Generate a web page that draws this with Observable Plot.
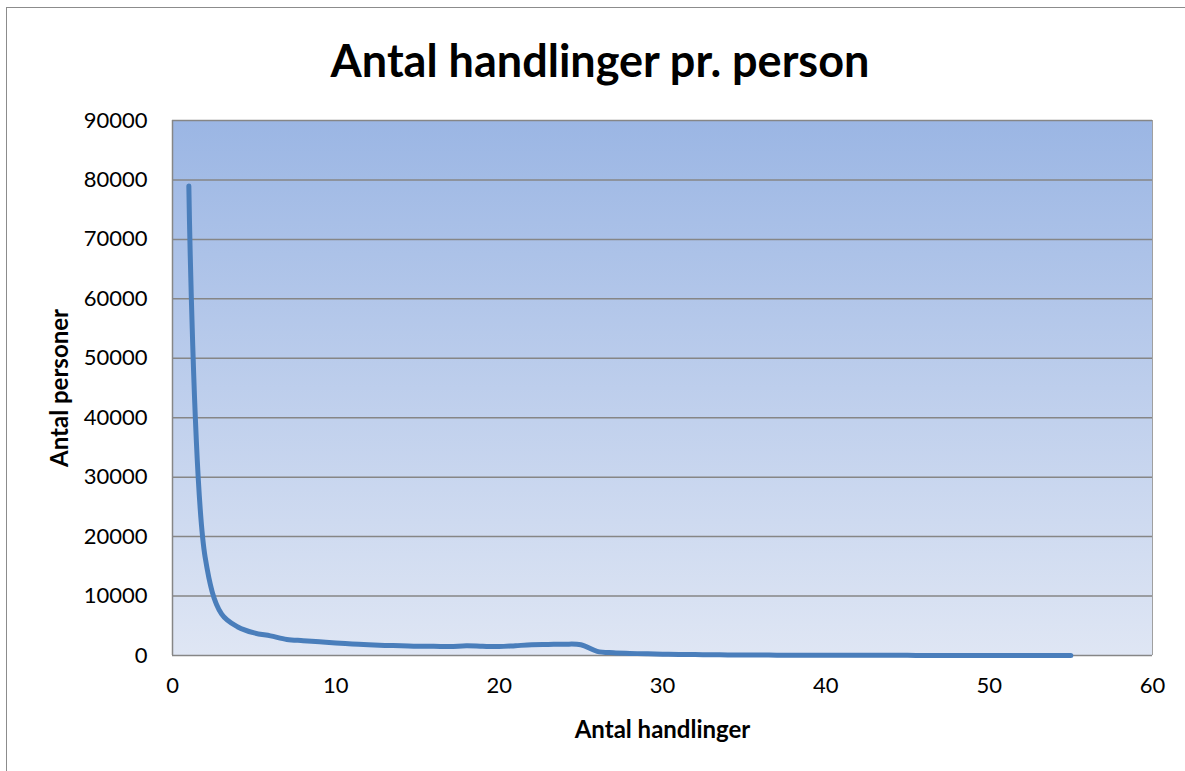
<!DOCTYPE html>
<html>
<head>
<meta charset="utf-8">
<script src="https://cdn.jsdelivr.net/npm/d3@7"></script>
<script src="https://cdn.jsdelivr.net/npm/@observablehq/plot@0.6"></script>
<style>
  html, body { margin: 0; padding: 0; background: #fff; }
  #wrap { position: relative; width: 1185px; height: 771px; overflow: hidden; font-family: Lato, "Open Sans", sans-serif; }
  #border { position: absolute; left: 6px; top: 7px; width: 1300px; height: 900px; border-left: 1.5px solid #8c8c8c; border-top: 1.5px solid #8c8c8c; }
  #title { position: absolute; left: 0; width: 1200px; top: 33px; text-align: center; font-weight: bold; font-size: 45px; line-height: 54px; color: #000; }
  #chart { position: absolute; left: 0; top: 0; }
</style>
</head>
<body>
<div id="wrap">
  <div id="border"></div>
  <div id="chart"></div>
  <div id="title">Antal handlinger pr. person</div>
</div>
<script>
const handlinger = [1,2,3,4,5,6,7,8,9,10,11,12,13,14,15,16,17,18,19,20,21,22,23,24,25,26,27,28,29,30,31,32,33,34,35,36,37,38,39,40,41,42,43,44,45,46,47,48,49,50,51,52,53,54,55];
const personer = [79000,16500,7000,4800,3800,3300,2700,2500,2300,2100,1950,1800,1700,1650,1550,1550,1500,1650,1550,1500,1650,1800,1850,1900,1800,700,450,350,280,220,180,150,120,100,80,70,60,50,45,40,35,30,28,25,22,20,18,16,15,14,12,11,10,10,10];
const xTicks = [0,10,20,30,40,50,60];
const yTicks = [0,10000,20000,30000,40000,50000,60000,70000,80000,90000];

const data = handlinger.map((h, i) => ({h, p: personer[i]}));

const defs = () => {
  const g = d3.create("svg:defs");
  const lg = g.append("linearGradient").attr("id", "bg").attr("x1", 0).attr("y1", 0).attr("x2", 0).attr("y2", 1);
  lg.append("stop").attr("offset", "0%").attr("stop-color", "#9bb6e4");
  lg.append("stop").attr("offset", "100%").attr("stop-color", "#dfe6f4");
  return g.node();
};

const chart = Plot.plot({
  width: 1185,
  height: 771,
  marginLeft: 172,
  marginRight: 33,
  marginTop: 120,
  marginBottom: 116,
  style: {fontFamily: "Lato, 'Open Sans', sans-serif", fontSize: "22px", color: "#000", background: "transparent"},
  x: {domain: [0, 60], ticks: xTicks, tickSize: 0, tickPadding: 22, label: "Antal handlinger", labelArrow: "none", labelAnchor: "center", labelOffset: 82, tickFormat: d => String(d)},
  y: {domain: [0, 90000], ticks: yTicks, tickSize: 0, tickPadding: 25, label: "Antal personer", labelArrow: "none", labelAnchor: "center", labelOffset: 122, tickFormat: d => String(d)},
  marks: [
    defs,
    Plot.frame({fill: "url(#bg)", stroke: null}),
    Plot.gridY(yTicks, {stroke: "#868686", strokeOpacity: 1, strokeWidth: 1.5}),
    Plot.ruleX([0], {stroke: "#868686", strokeWidth: 1.5}),
    Plot.ruleX([60], {stroke: "#a0a0a0", strokeWidth: 1}),
    Plot.line(data, {x: "h", y: "p", stroke: "#4a7ebb", strokeWidth: 5, curve: "catmull-rom", strokeLinecap: "round"})
  ]
});
d3.select(chart).selectAll("[aria-label='x-axis label'] text, [aria-label='y-axis label'] text")
  .style("font-weight", "bold").style("font-size", "24px");
document.getElementById("chart").appendChild(chart);
</script>
</body>
</html>
